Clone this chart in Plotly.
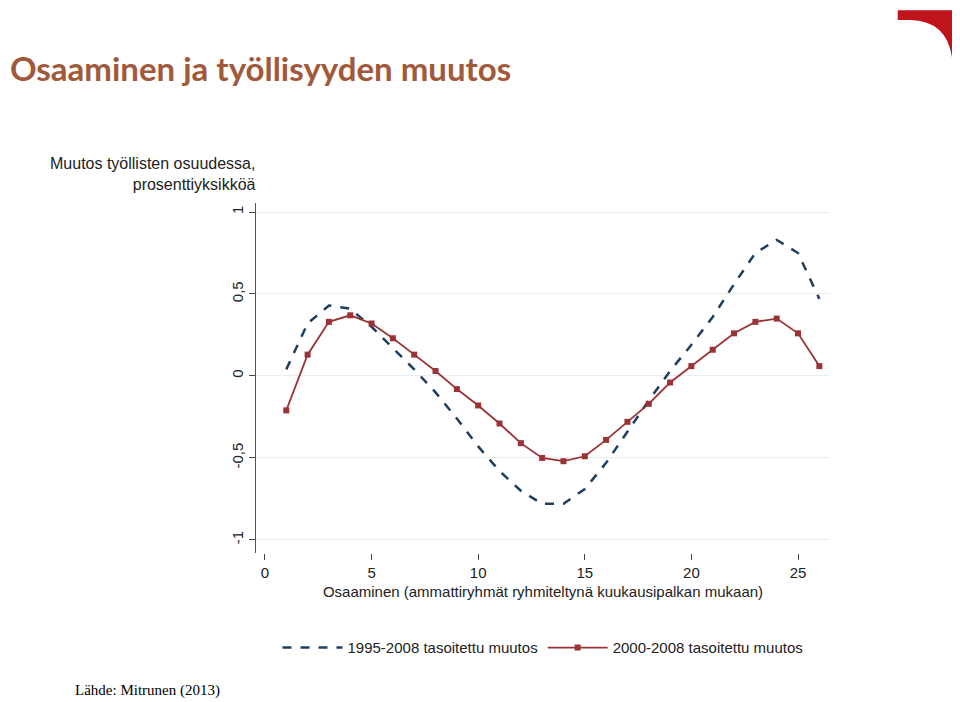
import plotly.graph_objects as go

x_vals = list(range(1, 27))
change_1995 = [0.04, 0.32, 0.43, 0.41, 0.30, 0.17, 0.04, -0.10, -0.26, -0.43, -0.58, -0.70, -0.78,
               -0.78, -0.69, -0.53, -0.34, -0.15, 0.03, 0.19, 0.36, 0.56, 0.75, 0.83, 0.75, 0.47]
change_2000 = [-0.21, 0.13, 0.33, 0.37, 0.32, 0.23, 0.13, 0.03, -0.08, -0.18, -0.29, -0.41, -0.50,
               -0.52, -0.49, -0.39, -0.28, -0.17, -0.04, 0.06, 0.16, 0.26, 0.33, 0.35, 0.26, 0.06]
y_ticks = [-1, -0.5, 0, 0.5, 1]
y_ticktext = ["-1", "-0,5", "0", "0,5", "1"]
x_ticks = [0, 5, 10, 15, 20, 25]

fig = go.Figure()
fig.add_trace(go.Scatter(
    x=x_vals, y=change_1995, mode='lines', name='1995-2008 tasoitettu muutos',
    line=dict(color='#1f3f5f', width=2.5, dash='dash')
))
fig.add_trace(go.Scatter(
    x=x_vals, y=change_2000, mode='lines+markers', name='2000-2008 tasoitettu muutos',
    line=dict(color='#9b3236', width=1.8),
    marker=dict(symbol='square', size=6, color='#9b3236')
))

fig.update_layout(
    width=960, height=702,
    margin=dict(l=248, r=138, t=195, b=157, autoexpand=False),
    plot_bgcolor='white', paper_bgcolor='white',
    font=dict(family='Liberation Sans, Arial', size=14, color='#222'),
    showlegend=True,
    legend=dict(orientation='h', x=0.5, xanchor='center', y=-0.271, yanchor='middle',
                font=dict(size=15), itemwidth=60),
    title=dict(text='Osaaminen ja työllisyyden muutos', x=0.002, xanchor='left', y=0.912, yanchor='middle',
               font=dict(family='Lato', size=33, color='#a0593a', weight='bold')),
    annotations=[
        dict(text='Muutos työllisten osuudessa,<br>prosenttiyksikköä', xref='paper', yref='paper',
             x=0.003, y=1.143, xanchor='right', yanchor='top', showarrow=False, align='right',
             font=dict(size=16, color='#222')),
        dict(text='Lähde: Mitrunen (2013)', xref='paper', yref='paper', x=-0.319, y=-0.394,
             xanchor='left', yanchor='middle', showarrow=False,
             font=dict(family='Liberation Serif', size=15, color='#000')),
    ],
)
fig.update_xaxes(range=[-0.42, 26.5], tickvals=x_ticks, ticks='outside', ticklen=6,
                 showgrid=False, zeroline=False, showline=False, automargin=False,
                 title=dict(text='Osaaminen (ammattiryhmät ryhmiteltynä kuukausipalkan mukaan)',
                            font=dict(size=15), standoff=6),
                 tickfont=dict(size=15))
fig.update_yaxes(range=[-1.08, 1.055], tickvals=y_ticks, ticktext=y_ticktext, tickangle=-90,
                 ticks='outside', ticklen=6, showline=True, linecolor='#555', linewidth=1,
                 automargin=False, gridcolor='#e6eef2', zeroline=False, tickfont=dict(size=15))

fig.add_shape(type='path', xref='paper', yref='paper',
              path='M 1.118 1.551 L 1.232 1.551 L 1.232 1.386 L 1.214 1.386 '
                   'Q 1.212 1.52 1.14 1.523 L 1.118 1.523 Z',
              fillcolor='#c0141c', line=dict(width=0))

fig.write_html("out.html")
